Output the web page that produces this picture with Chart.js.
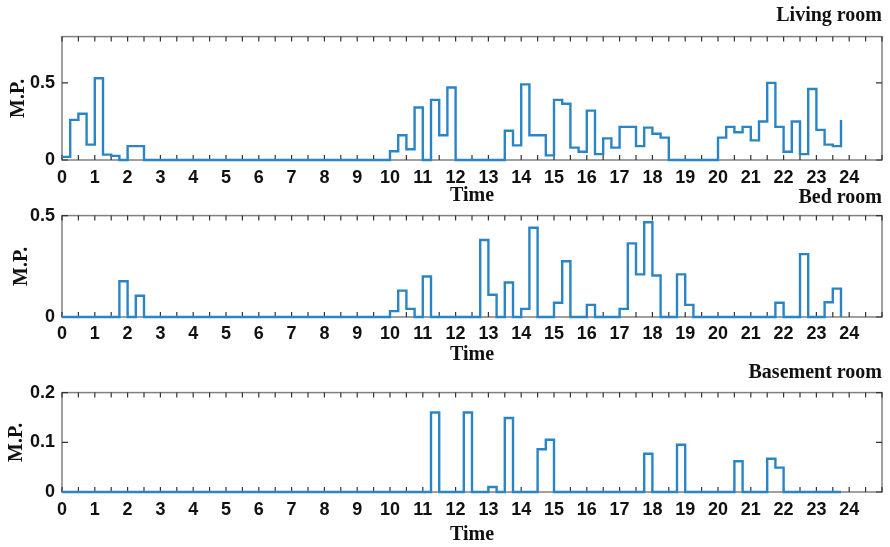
<!DOCTYPE html>
<html>
<head>
<meta charset="utf-8">
<script src="https://cdn.jsdelivr.net/npm/chart.js@4.4.0/dist/chart.umd.min.js"></script>
<style>
  body { margin: 0; background: #fff; }
  .panel { position: absolute; left: 0; width: 890px; }
</style>
</head>
<body>
<div class="panel" style="top:0;height:208px"><canvas id="livingChart"></canvas></div>
<div class="panel" style="top:180px;height:187px"><canvas id="bedChart"></canvas></div>
<div class="panel" style="top:355px;height:192px"><canvas id="basementChart"></canvas></div>
<script>
// 15-minute time slots (hours)
const timeSlots = [
    0, 0.25, 0.5, 0.75, 1, 1.25, 1.5, 1.75, 2, 2.25, 2.5, 2.75,
    3, 3.25, 3.5, 3.75, 4, 4.25, 4.5, 4.75, 5, 5.25, 5.5, 5.75,
    6, 6.25, 6.5, 6.75, 7, 7.25, 7.5, 7.75, 8, 8.25, 8.5, 8.75,
    9, 9.25, 9.5, 9.75, 10, 10.25, 10.5, 10.75, 11, 11.25, 11.5, 11.75,
    12, 12.25, 12.5, 12.75, 13, 13.25, 13.5, 13.75, 14, 14.25, 14.5, 14.75,
    15, 15.25, 15.5, 15.75, 16, 16.25, 16.5, 16.75, 17, 17.25, 17.5, 17.75,
    18, 18.25, 18.5, 18.75, 19, 19.25, 19.5, 19.75, 20, 20.25, 20.5, 20.75,
    21, 21.25, 21.5, 21.75, 22, 22.25, 22.5, 22.75, 23, 23.25, 23.5, 23.75
];

const livingRoom = [
    0.02, 0.26, 0.30, 0.10, 0.53, 0.035, 0.027, 0, 0.09, 0.09, 0, 0,
    0, 0, 0, 0, 0, 0, 0, 0, 0, 0, 0, 0,
    0, 0, 0, 0, 0, 0, 0, 0, 0, 0, 0, 0,
    0, 0, 0, 0, 0.057, 0.16, 0.07, 0.34, 0, 0.39, 0.16, 0.47,
    0, 0, 0, 0, 0, 0, 0.19, 0.095, 0.49, 0.16, 0.16, 0.03,
    0.39, 0.365, 0.08, 0.053, 0.32, 0.038, 0.14, 0.08, 0.215, 0.215, 0.09, 0.21,
    0.17, 0.145, 0, 0, 0, 0, 0, 0, 0.145, 0.215, 0.18, 0.215,
    0.127, 0.25, 0.50, 0.215, 0.053, 0.25, 0.038, 0.46, 0.195, 0.10, 0.09, 0.26
];

const bedRoom = [
    0, 0, 0, 0, 0, 0, 0, 0.176, 0, 0.105, 0, 0,
    0, 0, 0, 0, 0, 0, 0, 0, 0, 0, 0, 0,
    0, 0, 0, 0, 0, 0, 0, 0, 0, 0, 0, 0,
    0, 0, 0, 0, 0.029, 0.13, 0.04, 0, 0.2, 0, 0, 0,
    0, 0, 0, 0.38, 0.11, 0, 0.17, 0, 0.04, 0.44, 0, 0,
    0.07, 0.275, 0, 0, 0.06, 0, 0, 0, 0.04, 0.363, 0.21, 0.467,
    0.205, 0, 0, 0.21, 0.06, 0, 0, 0, 0, 0, 0, 0,
    0, 0, 0, 0.07, 0, 0, 0.31, 0, 0, 0.073, 0.14, 0
];

const basementRoom = [
    0, 0, 0, 0, 0, 0, 0, 0, 0, 0, 0, 0,
    0, 0, 0, 0, 0, 0, 0, 0, 0, 0, 0, 0,
    0, 0, 0, 0, 0, 0, 0, 0, 0, 0, 0, 0,
    0, 0, 0, 0, 0, 0, 0, 0, 0, 0.16, 0, 0,
    0, 0.16, 0, 0, 0.01, 0, 0.149, 0, 0, 0, 0.086, 0.105,
    0, 0, 0, 0, 0, 0, 0, 0, 0, 0, 0, 0.077,
    0, 0, 0, 0.095, 0, 0, 0, 0, 0, 0, 0.062, 0,
    0, 0, 0.067, 0.049, 0, 0, 0, 0, 0, 0, 0, 0
];

const hourTicks = [0, 1, 2, 3, 4, 5, 6, 7, 8, 9, 10, 11, 12, 13, 14, 15, 16, 17, 18, 19, 20, 21, 22, 23, 24];
const livingTicks = [0, 0.5];
const bedTicks = [0, 0.5];
const basementTicks = [0, 0.1, 0.2];

const serif = "'Liberation Serif', 'Times New Roman', serif";
const sans = "'Liberation Sans', Arial, sans-serif";

// box frame with inward tick marks, drawn under the data line
const frameTicks = {
    id: 'frameTicks',
    beforeDatasetsDraw(chart) {
        const { ctx, chartArea: a, scales: { x, y } } = chart;
        ctx.save();
        ctx.strokeStyle = '#808080';
        ctx.lineWidth = 1.5;
        ctx.strokeRect(a.left, a.top, a.right - a.left, a.bottom - a.top);
        ctx.strokeStyle = '#333';
        ctx.lineWidth = 1.2;
        ctx.beginPath();
        for (let v = 0; v <= 25; v += 0.5) {
            const px = x.getPixelForValue(v);
            ctx.moveTo(px, a.bottom); ctx.lineTo(px, a.bottom - 5);
            ctx.moveTo(px, a.top); ctx.lineTo(px, a.top + 5);
        }
        y.ticks.forEach(t => {
            const py = y.getPixelForValue(t.value);
            ctx.moveTo(a.left, py); ctx.lineTo(a.left + 6, py);
            ctx.moveTo(a.right, py); ctx.lineTo(a.right - 6, py);
        });
        ctx.stroke();
        ctx.restore();
    }
};

function makeChart(id, title, values, yMax, yTicks, box) {
    const ctx = document.getElementById(id)?.getContext('2d');
    if (!ctx) return;
    new Chart(ctx, {
        type: 'line',
        data: {
            datasets: [{
                data: timeSlots.map((t, i) => ({ x: t, y: values[i] })),
                stepped: true,
                borderColor: '#2a85c6',
                borderWidth: 2.4,
                pointRadius: 0,
                fill: false,
                clip: 4
            }]
        },
        options: {
            responsive: true,
            maintainAspectRatio: false,
            animation: false,
            layout: { padding: { left: 0, right: 8, top: 0, bottom: 0 } },
            plugins: {
                legend: { display: false },
                tooltip: { enabled: false },
                title: {
                    display: true,
                    text: title,
                    align: 'end',
                    color: '#111',
                    font: { family: serif, size: 20, weight: 'bold', lineHeight: 1.2 },
                    padding: { top: box.titleTop, bottom: box.titleBottom }
                }
            },
            scales: {
                x: {
                    type: 'linear',
                    min: 0,
                    max: 25,
                    afterBuildTicks: s => { s.ticks = hourTicks.map(v => ({ value: v })); },
                    afterFit: s => { s.height = box.axisHeight; },
                    grid: { display: false, drawTicks: false },
                    border: { display: false },
                    ticks: {
                        padding: box.tickPad,
                        color: '#111',
                        autoSkip: false,
                        maxRotation: 0,
                        font: { family: sans, size: 18, weight: 'bold' }
                    },
                    title: {
                        display: true,
                        text: 'Time',
                        color: '#111',
                        padding: 0,
                        font: { family: serif, size: 20, weight: 'bold', lineHeight: 1.2 }
                    }
                },
                y: {
                    min: 0,
                    max: yMax,
                    afterBuildTicks: s => { s.ticks = yTicks.map(v => ({ value: v })); },
                    afterFit: s => { s.width = 62; },
                    grid: { display: false, drawTicks: false },
                    border: { display: false },
                    ticks: {
                        padding: 7,
                        color: '#111',
                        font: { family: sans, size: 18, weight: 'bold' }
                    },
                    title: {
                        display: true,
                        text: 'M.P.',
                        color: '#111',
                        padding: { top: box.yTitlePad, bottom: 0 },
                        font: { family: serif, size: 20, weight: 'bold', lineHeight: 1.2 }
                    }
                }
            }
        },
        plugins: [frameTicks]
    });
}

document.addEventListener('DOMContentLoaded', () => {
    makeChart('livingChart', 'Living room', livingRoom, 0.8, livingTicks,
        { titleTop: 3.8, titleBottom: 8.8, axisHeight: 48, tickPad: 7, yTitlePad: 7 });
    makeChart('bedChart', 'Bed room', bedRoom, 0.5, bedTicks,
        { titleTop: 5.8, titleBottom: 5.8, axisHeight: 50, tickPad: 6, yTitlePad: 10 });
    makeChart('basementChart', 'Basement room', basementRoom, 0.2, basementTicks,
        { titleTop: 5.8, titleBottom: 7.8, axisHeight: 55, tickPad: 7, yTitlePad: 5 });
});
</script>
</body>
</html>
